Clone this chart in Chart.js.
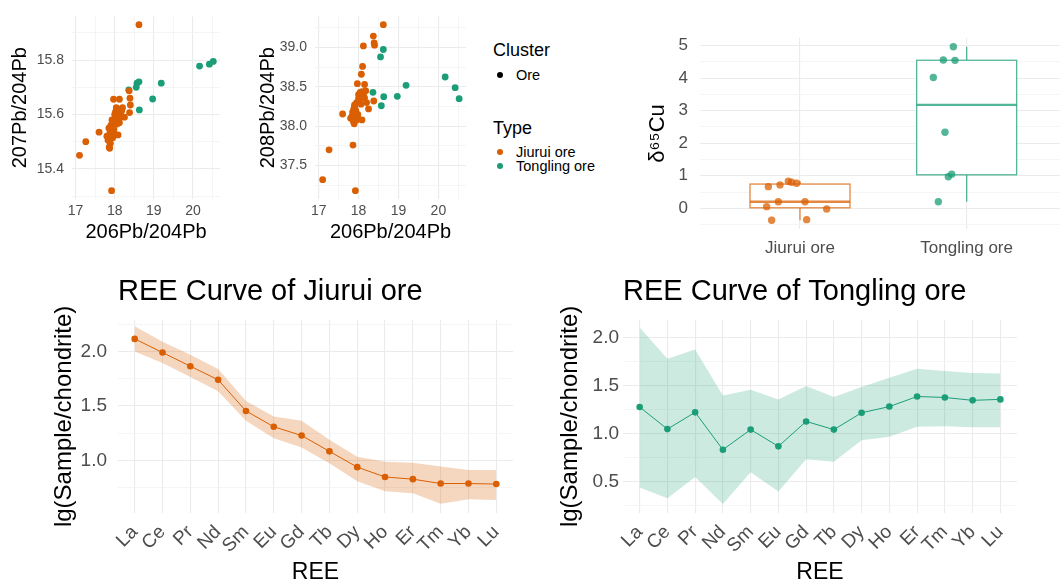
<!DOCTYPE html>
<html>
<head>
<meta charset="utf-8">
<script src="https://cdn.jsdelivr.net/npm/chart.js@4.4.0/dist/chart.umd.min.js"></script>
<style>
  body { margin: 0; width: 1064px; height: 586px; background: #fff; position: relative; overflow: hidden;
         font-family: "Liberation Sans", Arial, sans-serif; }
  canvas { position: absolute; }
  .lg { position: absolute; white-space: nowrap; color: #000; }
  .lg-title { font-size: 18px; line-height: 22px; }
  .lg-item { font-size: 14.5px; line-height: 18px; padding-left: 23px; }
  .lg-item i { position: absolute; left: 4px; top: 6px; width: 6px; height: 6px; border-radius: 50%; }
</style>
</head>
<body>
<canvas id="pb207" width="225" height="250" style="left:0;top:0"></canvas>
<canvas id="pb208" width="250" height="250" style="left:230px;top:0"></canvas>
<canvas id="cu" width="444" height="270" style="left:620px;top:0"></canvas>
<canvas id="reeJiurui" width="530" height="316" style="left:0;top:270px"></canvas>
<canvas id="reeTongling" width="534" height="316" style="left:530px;top:270px"></canvas>

<div class="lg lg-title" style="left:493px;top:39px">Cluster</div>
<div class="lg lg-item" style="left:493px;top:66px"><i style="background:#000"></i>Ore</div>
<div class="lg lg-title" style="left:493px;top:117px">Type</div>
<div class="lg lg-item" style="left:493px;top:143px"><i style="background:#D95F02"></i>Jiurui ore</div>
<div class="lg lg-item" style="left:493px;top:157px"><i style="background:#1B9E77"></i>Tongling ore</div>

<script>
// Pb isotopes, one entry per sample
const pbJiurui206 = [18.62, 17.92, 17.10, 17.26, 17.60, 17.86, 18.37, 18.39, 18.40, 18.38, 18.12, 17.97, 18.10, 18.07,
  18.15, 18.25, 18.085, 17.97, 17.89, 17.87, 17.80, 17.85, 17.90, 17.95, 18.00, 18.05, 18.10, 18.02, 17.93, 18.12,
  18.18, 17.98, 18.06, 17.88, 18.15, 18.00, 17.83, 18.20, 18.04, 17.95, 18.085, 17.90];
const pbJiurui207 = [15.93, 15.32, 15.45, 15.50, 15.535, 15.48, 15.687, 15.66, 15.635, 15.607, 15.656, 15.656, 15.62, 15.61,
  15.60, 15.59, 15.525, 15.533, 15.494, 15.476, 15.52, 15.55, 15.56, 15.57, 15.58, 15.59, 15.60, 15.61, 15.58, 15.57,
  15.615, 15.545, 15.565, 15.535, 15.59, 15.60, 15.505, 15.625, 15.625, 15.515, 15.62, 15.54];
const pbJiurui208 = [39.29, 37.18, 37.32, 37.70, 38.155, 37.76, 39.146, 39.06, 39.03, 38.32, 39.02, 38.54, 38.76, 38.66,
  38.53, 38.22, 38.08, 38.12, 38.03, 38.06, 38.10, 38.18, 38.25, 38.30, 38.35, 38.38, 38.42, 38.33, 38.20, 38.40,
  38.45, 38.15, 38.28, 38.22, 38.36, 38.40, 38.12, 38.30, 38.43, 38.08, 38.44, 38.27];
const pbTongling206 = [18.36, 18.55, 18.57, 18.62, 18.63, 18.97, 19.19, 20.17, 20.42, 20.52];
const pbTongling207 = [15.69, 15.70, 15.715, 15.72, 15.617, 15.657, 15.715, 15.778, 15.785, 15.795];
const pbTongling208 = [38.43, 38.88, 38.26, 38.975, 38.375, 38.38, 38.52, 38.625, 38.49, 38.35];

// delta65Cu with the horizontal jitter seen in the picture (category units)
const cuCategories = ['Jiurui ore', 'Tongling ore'];
const cuJiurui = [0.665, 0.72, 0.83, 0.80, 0.77, 0.05, 0.20, 0.20, -0.02, -0.37, -0.35];
const cuJiuruiJitter = [-0.19, -0.12, -0.07, -0.05, -0.02, -0.20, -0.13, 0.03, 0.16, -0.17, 0.04];
const cuTongling = [4.97, 4.56, 4.55, 4.02, 2.34, 0.97, 1.05, 0.20];
const cuTonglingJitter = [-0.08, -0.14, -0.07, -0.20, -0.13, -0.11, -0.09, -0.17];

// REE patterns: mean and band
const ree = ['La', 'Ce', 'Pr', 'Nd', 'Sm', 'Eu', 'Gd', 'Tb', 'Dy', 'Ho', 'Er', 'Tm', 'Yb', 'Lu'];
const jiuruiMean  = [2.115, 1.99, 1.865, 1.74, 1.455, 1.31, 1.23, 1.085, 0.94, 0.85, 0.83, 0.79, 0.79, 0.785];
const jiuruiUpper = [2.23, 2.09, 1.97, 1.84, 1.545, 1.405, 1.365, 1.19, 1.035, 0.99, 0.98, 0.945, 0.915, 0.915];
const jiuruiLower = [2.00, 1.895, 1.765, 1.635, 1.365, 1.205, 1.12, 0.975, 0.81, 0.72, 0.70, 0.605, 0.645, 0.64];
const tonglingMean  = [1.28, 1.05, 1.225, 0.835, 1.045, 0.87, 1.13, 1.045, 1.22, 1.285, 1.39, 1.38, 1.35, 1.36];
const tonglingUpper = [2.11, 1.785, 1.88, 1.40, 1.46, 1.36, 1.50, 1.385, 1.49, 1.585, 1.68, 1.655, 1.635, 1.63];
const tonglingLower = [0.44, 0.33, 0.55, 0.27, 0.60, 0.40, 0.735, 0.71, 0.935, 0.97, 1.075, 1.08, 1.07, 1.07];

// tick labels
const pbXTicks = [17, 18, 19, 20];
const pb207Ticks = [15.4, 15.6, 15.8];
const pb208Ticks = [37.5, 38.0, 38.5, 39.0];
const cuTicks = [0, 1, 2, 3, 4, 5];
const jiuruiTicks = [1.0, 1.5, 2.0];
const tonglingTicks = [0.5, 1.0, 1.5, 2.0];

const ORANGE = '#D95F02';
const GREEN = '#1B9E77';
const TICK = '#4D4D4D';

Chart.defaults.font.family = '"Liberation Sans", Arial, sans-serif';
Chart.defaults.animation = false;
Chart.defaults.plugins.legend.display = false;
Chart.defaults.plugins.tooltip.enabled = false;

function midpoints(major) {
  const step = major[1] - major[0];
  return [major[0] - step / 2, ...major.map(v => v + step / 2)];
}

function zip(xs, ys) {
  return xs.map((x, i) => ({ x: x, y: ys[i] }));
}

function gridAxis(o) {
  const minor = o.minor || [];
  const all = [...o.major, ...minor].filter(v => v >= o.min && v <= o.max).sort((a, b) => a - b);
  const isMajor = v => o.major.some(m => Math.abs(m - v) < 1e-9);
  return {
    type: 'linear',
    min: o.min,
    max: o.max,
    afterBuildTicks: s => { s.ticks = all.map(v => ({ value: v })); },
    afterFit: s => {
      if (o.width != null) s.width = o.width;
      if (o.height != null) s.height = o.height;
    },
    border: { display: false },
    grid: {
      drawTicks: false,
      color: c => isMajor(c.tick.value) ? '#EBEBEB' : '#F3F3F3',
      lineWidth: c => isMajor(c.tick.value) ? 1.1 : 0.8
    },
    ticks: {
      autoSkip: false,
      padding: o.pad,
      color: TICK,
      font: { size: o.size },
      minRotation: o.rotate || 0,
      maxRotation: o.rotate || 0,
      callback: v => isMajor(v) ? o.format(v) : ''
    },
    title: o.title
      ? { display: true, text: o.title, color: '#000', font: { size: o.titleSize }, padding: o.titlePad }
      : { display: false }
  };
}

function scatterChart(id, yJiurui, yTongling, yTicks, y, pad) {
  new Chart(document.getElementById(id), {
    type: 'scatter',
    data: {
      datasets: [
        { data: zip(pbJiurui206, yJiurui), backgroundColor: ORANGE, borderWidth: 0, pointRadius: 3.4 },
        { data: zip(pbTongling206, yTongling), backgroundColor: GREEN, borderWidth: 0, pointRadius: 3.4 }
      ]
    },
    options: {
      responsive: false,
      layout: { padding: pad },
      scales: {
        x: gridAxis({ min: 16.908, max: 20.692, major: pbXTicks, minor: midpoints(pbXTicks), size: 14, pad: 4,
          height: 51, format: v => String(v), title: '206Pb/204Pb', titleSize: 20, titlePad: { top: 0, bottom: 6 } }),
        y: gridAxis(Object.assign({ major: yTicks, minor: midpoints(yTicks), size: 14, pad: 8,
          format: v => v.toFixed(1), titleSize: 20 }, y))
      }
    }
  });
}

scatterChart('pb207', pbJiurui207, pbTongling207, pb207Ticks,
  { min: 15.2895, max: 15.9605, width: 72, title: '207Pb/204Pb', titlePad: { top: 8, bottom: 0 } },
  { top: 16, right: 5 });
scatterChart('pb208', pbJiurui208, pbTongling208, pb208Ticks,
  { min: 37.0745, max: 39.3955, width: 85, title: '208Pb/204Pb', titlePad: { top: 26, bottom: 0 } },
  { top: 16, right: 14 });

// boxplot
function quantile(sorted, p) {
  const h = (sorted.length - 1) * p;
  const lo = Math.floor(h);
  return sorted[lo] + (h - lo) * ((sorted[lo + 1] !== undefined ? sorted[lo + 1] : sorted[lo]) - sorted[lo]);
}

function boxStats(values) {
  const s = [...values].sort((a, b) => a - b);
  const q1 = quantile(s, 0.25), med = quantile(s, 0.5), q3 = quantile(s, 0.75);
  const iqr = q3 - q1;
  const inside = s.filter(v => v >= q1 - 1.5 * iqr && v <= q3 + 1.5 * iqr);
  return { q1, med, q3, lo: inside[0], hi: inside[inside.length - 1] };
}

const cuGroups = [
  { values: cuJiurui, color: 'rgba(217,95,2,0.75)' },
  { values: cuTongling, color: 'rgba(27,158,119,0.75)' }
];

const boxPlugin = {
  id: 'boxes',
  beforeDatasetsDraw(chart) {
    const { ctx, scales: { x, y } } = chart;
    cuGroups.forEach((g, i) => {
      const st = boxStats(g.values);
      const cx = x.getPixelForValue(i + 1);
      const l = x.getPixelForValue(i + 1 - 0.3);
      const r = x.getPixelForValue(i + 1 + 0.3);
      ctx.save();
      ctx.strokeStyle = g.color;
      ctx.lineWidth = 1.3;
      ctx.beginPath();
      ctx.moveTo(cx, y.getPixelForValue(st.q3));
      ctx.lineTo(cx, y.getPixelForValue(st.hi));
      ctx.moveTo(cx, y.getPixelForValue(st.q1));
      ctx.lineTo(cx, y.getPixelForValue(st.lo));
      ctx.stroke();
      ctx.fillStyle = '#fff';
      const top = y.getPixelForValue(st.q3), bot = y.getPixelForValue(st.q1);
      ctx.fillRect(l, top, r - l, bot - top);
      ctx.strokeRect(l, top, r - l, bot - top);
      ctx.lineWidth = 2.4;
      ctx.beginPath();
      ctx.moveTo(l, y.getPixelForValue(st.med));
      ctx.lineTo(r, y.getPixelForValue(st.med));
      ctx.stroke();
      ctx.restore();
    });
  }
};

new Chart(document.getElementById('cu'), {
  type: 'scatter',
  data: {
    datasets: [
      { data: cuJiurui.map((v, i) => ({ x: 1 + cuJiuruiJitter[i], y: v })), backgroundColor: cuGroups[0].color,
        borderWidth: 0, pointRadius: 3.7 },
      { data: cuTongling.map((v, i) => ({ x: 2 + cuTonglingJitter[i], y: v })), backgroundColor: cuGroups[1].color,
        borderWidth: 0, pointRadius: 3.7 }
    ]
  },
  options: {
    responsive: false,
    layout: { padding: { top: 38, right: 0 } },
    scales: {
      x: gridAxis({ min: 0.4, max: 2.56, major: [1, 2], size: 17, pad: 9, height: 41,
        format: v => cuCategories[v - 1] }),
      y: gridAxis({ min: -0.637, max: 5.237, major: cuTicks, minor: midpoints(cuTicks), size: 17, pad: 12, width: 80,
        format: v => String(v), title: 'δ\u2076\u2075Cu', titleSize: 22, titlePad: { top: 25, bottom: 0 } })
    }
  },
  plugins: [boxPlugin]
});

// REE curves
function reeChart(id, title, mean, upper, lower, color, band, y, pad) {
  const pts = arr => arr.map((v, i) => ({ x: i + 1, y: v }));
  const idx = ree.map((_, i) => i + 1);
  new Chart(document.getElementById(id), {
    type: 'line',
    data: {
      datasets: [
        { data: pts(mean), borderColor: color, borderWidth: 1, backgroundColor: color, pointRadius: 3.3,
          pointBorderWidth: 0, tension: 0, fill: false },
        { data: pts(upper), borderWidth: 0, pointRadius: 0, backgroundColor: band, fill: '+1', tension: 0 },
        { data: pts(lower), borderWidth: 0, pointRadius: 0, backgroundColor: band, fill: false, tension: 0 }
      ]
    },
    options: {
      responsive: false,
      layout: { padding: pad },
      plugins: {
        title: { display: true, text: title, align: 'start', fullSize: false, color: '#000',
          font: { size: 29, weight: 'normal' }, padding: { top: 5, bottom: 10 } }
      },
      scales: {
        x: gridAxis({ min: 0.4, max: 14.6, major: idx, size: 19, pad: 8, height: 73, rotate: 45,
          format: v => ree[v - 1], title: 'REE', titleSize: 23, titlePad: { top: 0, bottom: 0 } }),
        y: gridAxis(Object.assign({ size: 19, format: v => v.toFixed(1), title: 'lg(Sample/chondrite)',
          titleSize: 24 }, y))
      }
    }
  });
}

reeChart('reeJiurui', 'REE Curve of Jiurui ore', jiuruiMean, jiuruiUpper, jiuruiLower, ORANGE,
  'rgba(217,95,2,0.25)',
  { min: 0.52, max: 2.29, major: jiuruiTicks, minor: midpoints(jiuruiTicks), pad: 11, width: 118,
    titlePad: { top: 50, bottom: 0 } },
  { right: 17 });
reeChart('reeTongling', 'REE Curve of Tongling ore', tonglingMean, tonglingUpper, tonglingLower, GREEN,
  'rgba(27,158,119,0.22)',
  { min: 0.175, max: 2.19, major: tonglingTicks, minor: midpoints(tonglingTicks), pad: 4, width: 93,
    titlePad: { top: 26, bottom: 0 } },
  { right: 47 });
</script>
</body>
</html>
